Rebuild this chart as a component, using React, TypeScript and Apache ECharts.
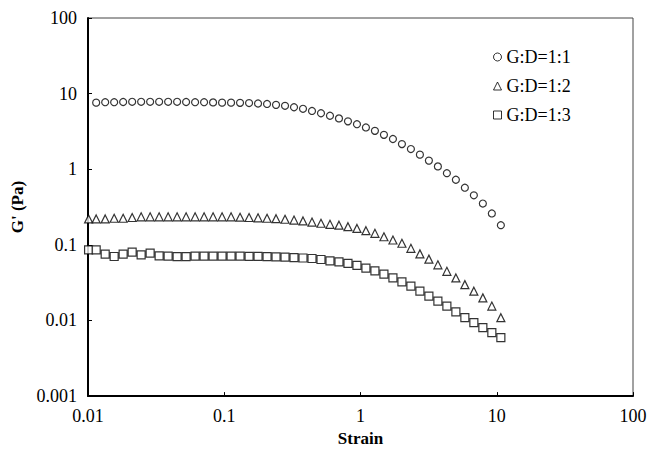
import React, { useEffect, useRef } from "react";
import * as echarts from "echarts";

const strain = [
  0.0101, 0.01148, 0.01337, 0.01556, 0.01811, 0.02109, 0.02455, 0.02858, 0.03327, 0.03873,
  0.04508, 0.05248, 0.06109, 0.07112, 0.08279, 0.09638, 0.1122, 0.1306, 0.1521, 0.177,
  0.2061, 0.2399, 0.2793, 0.3251, 0.3784, 0.4406, 0.5129, 0.597, 0.695, 0.8091,
  0.9419, 1.096, 1.276, 1.486, 1.73, 2.014, 2.344, 2.729, 3.177, 3.698,
  4.305, 5.012, 5.834, 6.792, 7.907, 9.204, 10.72,
];

// G:D=1:1 has no point at the first strain value
const gd11 = [
  null,
  7.6, 7.7, 7.7, 7.75, 7.8, 7.8, 7.8, 7.8, 7.8, 7.8, 7.75, 7.7, 7.7, 7.65,
  7.6, 7.6, 7.55, 7.5, 7.4, 7.3, 7.1, 6.9, 6.6, 6.3, 5.9, 5.5, 5.1, 4.7, 4.3,
  3.94, 3.57, 3.22, 2.85, 2.51, 2.15, 1.85, 1.56, 1.3, 1.09, 0.887, 0.726, 0.57, 0.452, 0.352, 0.26, 0.182,
];

const gd12 = [
  0.22,
  0.22, 0.22, 0.225, 0.225, 0.23, 0.235, 0.235, 0.235, 0.235, 0.235, 0.235, 0.235, 0.235, 0.235,
  0.235, 0.235, 0.232, 0.23, 0.228, 0.225, 0.222, 0.218, 0.213, 0.207, 0.2, 0.193, 0.187,
  0.182, 0.174, 0.165, 0.154, 0.142, 0.128, 0.116, 0.105, 0.09, 0.076, 0.0648, 0.0545, 0.0447,
  0.0365, 0.0298, 0.0244, 0.0199, 0.0155, 0.0109,
];

const gd13 = [
  0.0857,
  0.0857, 0.0753, 0.0702, 0.0753, 0.08, 0.0736, 0.0776, 0.0715,
  0.071, 0.07, 0.07, 0.071, 0.071, 0.071, 0.071, 0.071, 0.071, 0.0705, 0.0705, 0.07, 0.0695,
  0.069, 0.068, 0.067, 0.066, 0.064, 0.0615,
  0.0595, 0.057, 0.0535, 0.0493, 0.0454, 0.0411, 0.0365, 0.0323, 0.0284, 0.0244, 0.021,
  0.018, 0.0155, 0.013, 0.0109, 0.00936, 0.00805, 0.00692, 0.00594,
];

const seriesNames = ["G:D=1:1", "G:D=1:2", "G:D=1:3"];
const xTickLabels = ["0.01", "0.1", "1", "10", "100"];
const yTickLabels = ["0.001", "0.01", "0.1", "1", "10", "100"];

const FONT = "'Liberation Serif', 'Times New Roman', serif";

function pairs(ys: (number | null)[]) {
  const out: number[][] = [];
  ys.forEach((y, i) => {
    if (y !== null) out.push([strain[i], y]);
  });
  return out;
}

function fmt(v: number) {
  return Number(v.toPrecision(6)).toString();
}

export default function App() {
  const ref = useRef<HTMLDivElement>(null);
  useEffect(() => {
    if (!ref.current) return;
    const chart = echarts.init(ref.current, undefined, { renderer: "svg" });
    const markerStyle = { color: "#fff", borderColor: "#000", borderWidth: 1.2 };
    chart.setOption({
      animation: false,
      backgroundColor: "#fff",
      textStyle: { fontFamily: FONT, color: "#000" },
      grid: {
        left: 88,
        right: 27,
        top: 18,
        bottom: 53,
        show: true,
        borderColor: "#444",
        borderWidth: 1,
        backgroundColor: "transparent",
      },
      legend: {
        orient: "vertical",
        left: 493,
        top: 48,
        padding: 0,
        itemWidth: 8,
        itemHeight: 8,
        itemGap: 11,
        data: seriesNames,
        itemStyle: { color: "#fff", borderColor: "#000", borderWidth: 1 },
        textStyle: { fontFamily: FONT, fontSize: 18, color: "#000" },
      },
      xAxis: {
        type: "log",
        logBase: 10,
        min: 0.01,
        max: 100,
        name: "Strain",
        nameLocation: "middle",
        nameGap: 30,
        nameTextStyle: { fontFamily: FONT, fontSize: 17, fontWeight: "bold", color: "#000" },
        axisLine: { lineStyle: { color: "#000", width: 2 } },
        axisTick: { inside: true, length: 4, lineStyle: { color: "#000" } },
        minorTick: { show: false },
        splitLine: { show: false },
        axisLabel: {
          margin: 11,
          fontFamily: FONT,
          fontSize: 18,
          color: "#000",
          formatter: (v: number) => {
            const s = fmt(v);
            return xTickLabels.includes(s) ? s : "";
          },
        },
      },
      yAxis: {
        type: "log",
        logBase: 10,
        min: 0.001,
        max: 100,
        name: "G' (Pa)",
        nameLocation: "middle",
        nameGap: 62,
        nameTextStyle: { fontFamily: FONT, fontSize: 17, fontWeight: "bold", color: "#000" },
        axisLine: { lineStyle: { color: "#000", width: 2 } },
        axisTick: { inside: true, length: 4, lineStyle: { color: "#000" } },
        minorTick: { show: false },
        splitLine: { show: false },
        axisLabel: {
          margin: 11,
          fontFamily: FONT,
          fontSize: 18,
          color: "#000",
          formatter: (v: number) => {
            const s = fmt(v);
            return yTickLabels.includes(s) ? s : "";
          },
        },
      },
      series: [
        {
          name: seriesNames[0],
          type: "scatter",
          symbol: "circle",
          symbolSize: 7,
          itemStyle: markerStyle,
          data: pairs(gd11),
        },
        {
          name: seriesNames[1],
          type: "scatter",
          symbol: "triangle",
          symbolSize: 8,
          itemStyle: markerStyle,
          data: pairs(gd12),
        },
        {
          name: seriesNames[2],
          type: "scatter",
          symbol: "rect",
          symbolSize: 8,
          itemStyle: markerStyle,
          data: pairs(gd13),
        },
      ],
    });
    return () => chart.dispose();
  }, []);
  return (
    <div
      ref={ref}
      style={{ position: "fixed", left: 0, top: 0, width: 660, height: 452, background: "#fff" }}
    />
  );
}
